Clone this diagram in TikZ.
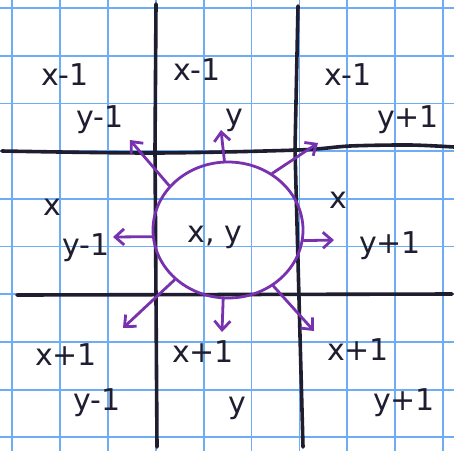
\documentclass[tikz,border=0pt]{standalone}
\usepackage{fontspec}
\setmainfont{DejaVu Sans}
\usetikzlibrary{arrows.meta,shapes.geometric}
\definecolor{gridblue}{RGB}{110,172,245}
\definecolor{ink}{RGB}{30,30,48}
\definecolor{pen}{RGB}{120,50,175}
\begin{document}
\begin{tikzpicture}[x=1pt,y=-1pt,
  gridline/.style={gridblue,line width=1.8pt},
  bold/.style={ink,line width=3.6pt,line cap=round,line join=round},
  lab/.style={ink,font=\fontsize{30}{32}\selectfont,inner sep=0pt},
  ray/.style={pen,line width=2.8pt,line cap=round,-{Straight Barb[length=9pt,width=16pt]}},
  ring/.style={draw=pen,line width=2.8pt,ellipse,minimum width=150pt,minimum height=136pt,inner sep=0pt}]
\useasboundingbox (0,0) rectangle (454,451);
\fill[white] (0,0) rectangle (454,451);
\foreach \i in {0,...,9} {
  \draw[gridline] ({12+47.9*\i},0) -- ++(0,451);
  \draw[gridline] (0,{8+47.7*\i}) -- ++(454,0);
}
% thick black grid
\draw[bold] (156,4) -- (155,150) -- (157,447);
\draw[bold] (298,6) -- (295,150) -- (303,447);
\draw[bold] plot[smooth] coordinates {(2,151) (155,153) (298,150) (350,146) (410,145) (454,147)};
\draw[bold] (17,295) -- (452,294);
% centre circle
\node[ring] (c) at (228,230) {};
\node[lab] (cxy) at (215,237) {x, y};
% arrow tips
\coordinate (tN) at (221,130);
\coordinate (tNW) at (130,140);
\coordinate (tNE) at (318,143);
\coordinate (tW) at (113,237);
\coordinate (tE) at (334,240);
\coordinate (tSW) at (123,328);
\coordinate (tS) at (222,332);
\coordinate (tSE) at (314,331);
\draw[ray] (c.93) -- (tN);
\draw[ray] (c.143) -- (tNW);
\draw[ray] (c.52) -- (tNE);
\draw[ray] (c.185) -- (tW);
\draw[ray] (c.352) -- (tE);
\draw[ray] (c.223) -- (tSW);
\draw[ray] (c.266) -- (tS);
\draw[ray] (c.309) -- (tSE);
% labels
\node[lab] (a1) at (65,75) {x-1};
\node[lab] (a2) at (100,120) {y-1};
\node[lab] (b1) at (197,70) {x-1};
\node[lab] (b2) at (234,120) {y};
\node[lab] (c1) at (348,75) {x-1};
\node[lab] (c2) at (408,120) {y+1};
\node[lab] (d1) at (52,207) {x};
\node[lab] (d2) at (86,248) {y-1};
\node[lab] (e1) at (338,200) {x};
\node[lab] (e2) at (390,246) {y+1};
\node[lab] (f1) at (66,355) {x+1};
\node[lab] (f2) at (97,403) {y-1};
\node[lab] (g1) at (203,352) {x+1};
\node[lab] (g2) at (237,408) {y};
\node[lab] (h1) at (358,350) {x+1};
\node[lab] (h2) at (404,403) {y+1};
\end{tikzpicture}
\end{document}
